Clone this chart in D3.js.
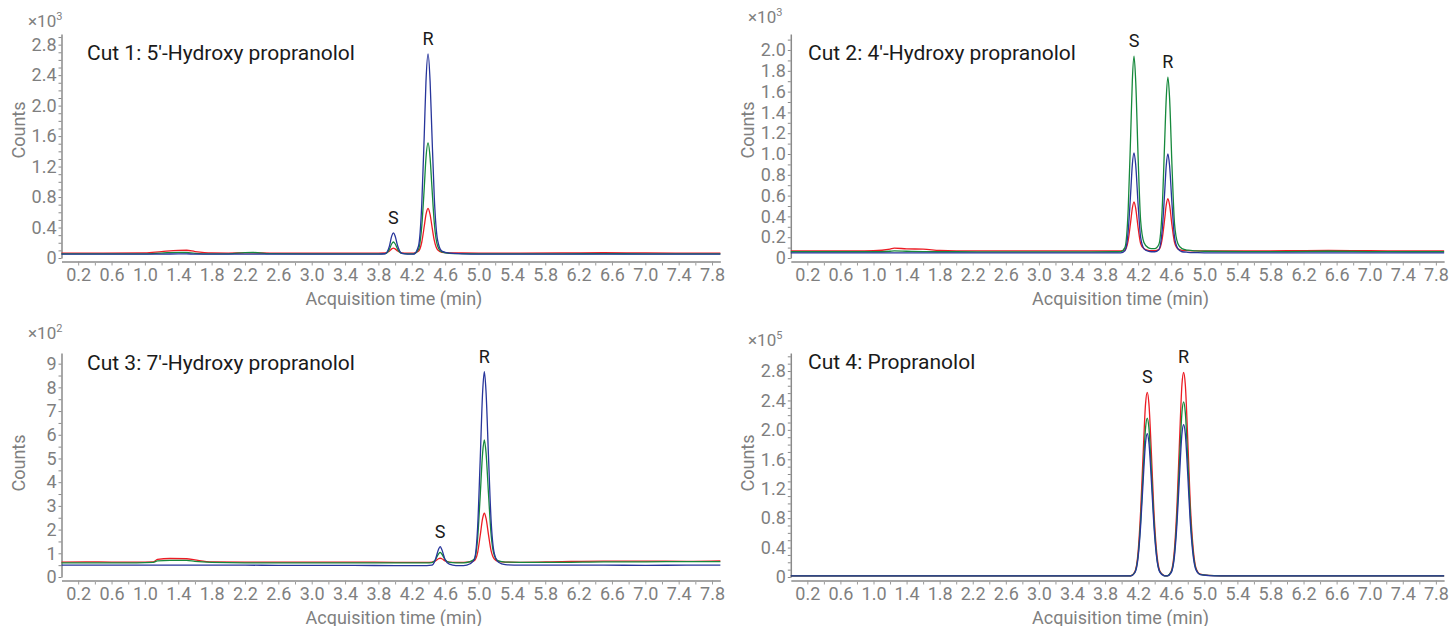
<!DOCTYPE html>
<html><head><meta charset="utf-8">
<script src="https://cdn.jsdelivr.net/npm/d3@7"></script>
<style>
body{margin:0;background:#fff}
svg{display:block}
text{font-family:Roboto,"Noto Sans",sans-serif}
</style>
</head><body>
<svg id="c" width="1450" height="626"></svg>
<script>
// ---------- DATA ----------
const xTickLabels = [0.2,0.6,1.0,1.4,1.8,2.2,2.6,3.0,3.4,3.8,4.2,4.6,5.0,5.4,5.8,6.2,6.6,7.0,7.4,7.8];
const xMinorTicks = [0.4,0.8,1.2,1.6,2.0,2.4,2.8,3.2,3.6,4.0,4.4,4.8,5.2,5.6,6.0,6.4,6.8,7.2,7.6];

const titles = ["Cut 1: 5'-Hydroxy propranolol","Cut 2: 4'-Hydroxy propranolol","Cut 3: 7'-Hydroxy propranolol","Cut 4: Propranolol"];
const exponents = ["3","3","2","5"];

const p1YTicks = [0,0.4,0.8,1.2,1.6,2.0,2.4,2.8];
const p2YTicks = [0,0.2,0.4,0.6,0.8,1.0,1.2,1.4,1.6,1.8,2.0];
const p3YTicks = [0,1,2,3,4,5,6,7,8,9];
const p4YTicks = [0,0.4,0.8,1.2,1.6,2.0,2.4,2.8];

// Panel 1 (x10^3)
const p1Time  = [0,0.5,1.0,1.2,1.4,1.5,1.6,1.8,2.0,2.2,2.3,2.5,3.0,3.5,3.8,3.88,3.93,3.96,3.98,4.00,4.03,4.08,4.15,4.22,4.28,4.32,4.35,4.37,4.395,4.42,4.44,4.47,4.51,4.56,4.65,4.8,5.0,5.5,6.0,6.5,7.0,7.5,7.9];
const p1Red   = [0.065,0.065,0.068,0.085,0.1,0.102,0.085,0.066,0.065,0.066,0.066,0.065,0.065,0.065,0.065,0.066,0.088,0.12,0.13,0.12,0.091,0.068,0.065,0.065,0.088,0.21,0.42,0.57,0.65,0.57,0.43,0.23,0.106,0.074,0.068,0.066,0.065,0.065,0.066,0.07,0.066,0.065,0.065];
const p1Green = [0.055,0.055,0.055,0.065,0.075,0.072,0.062,0.055,0.055,0.07,0.072,0.058,0.055,0.055,0.055,0.058,0.11,0.187,0.21,0.187,0.117,0.061,0.055,0.055,0.113,0.42,0.93,1.31,1.51,1.31,0.96,0.46,0.157,0.08,0.062,0.057,0.055,0.055,0.055,0.057,0.055,0.055,0.055];
const p1Blue  = [0.05,0.05,0.05,0.05,0.055,0.055,0.05,0.05,0.05,0.05,0.05,0.05,0.05,0.05,0.05,0.056,0.15,0.29,0.33,0.29,0.16,0.06,0.05,0.05,0.155,0.71,1.63,2.31,2.68,2.31,1.68,0.79,0.23,0.09,0.063,0.055,0.05,0.05,0.05,0.05,0.05,0.05,0.05];
const p1PeakNames = ["S","R"];
const p1PeakTimes = [3.98,4.395];

// Panel 2 (x10^3)
const p2Time  = [0,0.5,1.0,1.2,1.25,1.4,1.6,1.8,2.0,2.5,3.0,3.5,3.9,3.99,4.04,4.08,4.11,4.13,4.15,4.17,4.20,4.23,4.27,4.32,4.36,4.40,4.45,4.49,4.52,4.54,4.56,4.58,4.61,4.64,4.68,4.73,4.8,4.9,5.0,5.5,6.0,6.5,7.0,7.5,7.9];
const p2Red   = [0.068,0.068,0.07,0.085,0.095,0.088,0.085,0.072,0.068,0.068,0.068,0.068,0.068,0.068,0.078,0.17,0.35,0.48,0.54,0.48,0.29,0.14,0.088,0.073,0.07,0.07,0.08,0.18,0.37,0.51,0.57,0.51,0.31,0.15,0.088,0.074,0.07,0.068,0.068,0.068,0.07,0.072,0.07,0.068,0.068];
const p2Green = [0.06,0.06,0.06,0.065,0.068,0.065,0.062,0.06,0.06,0.058,0.058,0.058,0.06,0.062,0.1,0.47,1.19,1.71,1.94,1.71,0.96,0.36,0.15,0.1,0.09,0.09,0.13,0.46,1.1,1.54,1.74,1.54,0.87,0.33,0.14,0.09,0.075,0.068,0.065,0.062,0.062,0.065,0.062,0.06,0.06];
const p2Blue  = [0.05,0.05,0.05,0.05,0.05,0.05,0.05,0.05,0.05,0.05,0.05,0.05,0.05,0.05,0.07,0.26,0.63,0.9,1.01,0.9,0.51,0.2,0.09,0.065,0.06,0.06,0.08,0.26,0.62,0.89,1.0,0.89,0.51,0.2,0.09,0.06,0.055,0.052,0.05,0.05,0.05,0.05,0.05,0.05,0.05];
const p2PeakNames = ["S","R"];
const p2PeakTimes = [4.15,4.56];

// Panel 3 (x10^2)
const p3Time  = [0,0.3,0.6,0.9,1.1,1.15,1.3,1.5,1.6,1.8,2.2,2.6,3.0,3.5,4.0,4.38,4.44,4.48,4.52,4.54,4.56,4.60,4.65,4.73,4.82,4.90,4.95,4.99,5.02,5.05,5.07,5.09,5.12,5.15,5.19,5.24,5.32,5.5,6.0,6.5,7.0,7.5,7.9];
const p3Red   = [0.63,0.64,0.63,0.63,0.64,0.74,0.78,0.77,0.72,0.64,0.63,0.63,0.63,0.63,0.62,0.62,0.63,0.67,0.77,0.79,0.77,0.68,0.63,0.62,0.62,0.64,0.69,1.04,1.74,2.48,2.69,2.48,1.78,1.12,0.76,0.66,0.63,0.62,0.65,0.67,0.67,0.66,0.68];
const p3Green = [0.6,0.6,0.6,0.6,0.62,0.68,0.7,0.7,0.66,0.62,0.6,0.6,0.6,0.6,0.6,0.6,0.61,0.71,0.97,1.04,0.97,0.73,0.62,0.6,0.6,0.65,0.76,1.64,3.4,5.26,5.78,5.26,3.5,1.84,0.91,0.68,0.63,0.62,0.62,0.64,0.64,0.65,0.65];
const p3Blue  = [0.5,0.5,0.5,0.5,0.5,0.5,0.5,0.5,0.5,0.5,0.5,0.49,0.49,0.49,0.48,0.48,0.5,0.7,1.16,1.28,1.16,0.73,0.54,0.48,0.48,0.56,0.74,2.13,4.9,7.84,8.66,7.84,5.07,2.46,0.99,0.62,0.52,0.5,0.5,0.5,0.49,0.5,0.5];
const p3PeakNames = ["S","R"];
const p3PeakTimes = [4.54,5.07];

// Panel 4 (x10^5)
const p4Time  = [0,0.5,1,2,3,3.5,4.0,4.11,4.16,4.20,4.23,4.26,4.29,4.31,4.33,4.36,4.39,4.42,4.46,4.51,4.53,4.55,4.60,4.64,4.67,4.70,4.73,4.75,4.77,4.80,4.83,4.86,4.90,4.95,5.05,5.2,5.5,6,6.5,7,7.5,7.9];
const p4Red   = [0.015,0.015,0.015,0.015,0.015,0.015,0.015,0.017,0.072,0.35,0.89,1.66,2.36,2.51,2.36,1.69,0.91,0.39,0.09,0.022,0.017,0.017,0.079,0.39,0.98,1.84,2.62,2.78,2.62,1.87,1.01,0.46,0.12,0.04,0.022,0.017,0.015,0.015,0.015,0.015,0.015,0.015];
const p4Green = [0.015,0.015,0.015,0.015,0.015,0.015,0.015,0.016,0.064,0.30,0.76,1.43,2.03,2.16,2.03,1.45,0.79,0.33,0.077,0.02,0.016,0.016,0.069,0.33,0.84,1.57,2.24,2.38,2.24,1.60,0.87,0.39,0.107,0.036,0.022,0.016,0.015,0.015,0.015,0.015,0.015,0.015];
const p4Blue  = [0.014,0.014,0.014,0.014,0.014,0.014,0.014,0.015,0.058,0.27,0.69,1.29,1.83,1.95,1.83,1.31,0.71,0.30,0.07,0.019,0.015,0.015,0.06,0.29,0.73,1.37,1.95,2.07,1.95,1.39,0.75,0.34,0.094,0.033,0.02,0.015,0.014,0.014,0.014,0.014,0.014,0.014];
const p4PeakNames = ["S","R"];
const p4PeakTimes = [4.31,4.75];

// ---------- LAYOUT ----------
const colors = ["#ec1c24","#16893c","#27359b"];
const XMAX = 7.9;
const panels = [
  {time:p1Time, series:[p1Red,p1Green,p1Blue], names:p1PeakNames, times:p1PeakTimes, yTicks:p1YTicks, yMax:2.94, yMinor:0.1, fmt:d3.format(".1f"),
   left:61.5, pxmin:83.4, zero:258, top:34, countsY:130, expX:28, expY:27, titleX:87, titleY:60},
  {time:p2Time, series:[p2Red,p2Green,p2Blue], names:p2PeakNames, times:p2PeakTimes, yTicks:p2YTicks, yMax:2.154, yMinor:0.1, fmt:d3.format(".1f"),
   left:790.8, pxmin:82.7, zero:258, top:34, countsY:130, expX:748, expY:23, titleX:808, titleY:60},
  {time:p3Time, series:[p3Red,p3Green,p3Blue], names:p3PeakNames, times:p3PeakTimes, yTicks:p3YTicks, yMax:9.45, yMinor:0.5, fmt:d3.format("d"),
   left:61.5, pxmin:83.4, zero:577, top:353, countsY:463, expX:28, expY:339, titleX:87, titleY:370},
  {time:p4Time, series:[p4Red,p4Green,p4Blue], names:p4PeakNames, times:p4PeakTimes, yTicks:p4YTicks, yMax:3.045, yMinor:0.1, fmt:d3.format(".1f"),
   left:790.8, pxmin:82.7, zero:577, top:353, countsY:463, expX:748, expY:346, titleX:808, titleY:369}
];

const svg = d3.select("#c");
svg.append("rect").attr("width",1450).attr("height",626).attr("fill","#fff");

panels.forEach((p,i) => {
  const x = d3.scaleLinear().domain([0,XMAX]).range([p.left, p.left + XMAX*p.pxmin]);
  const y = d3.scaleLinear().domain([0,p.yMax]).range([p.zero, p.top]);
  const g = svg.append("g");
  const xAxisY = p.zero + 3.5;

  g.append("g").attr("transform",`translate(0,${xAxisY})`)
    .call(d3.axisBottom(x).tickValues(xMinorTicks).tickSize(4).tickSizeOuter(0).tickFormat(""))
    .call(s=>s.select(".domain").remove())
    .call(s=>s.selectAll("line").attr("stroke","#9a9a9a"));
  g.append("g").attr("transform",`translate(0,${xAxisY})`)
    .call(d3.axisBottom(x).tickValues(xTickLabels).tickSize(4).tickSizeOuter(0).tickPadding(3).tickFormat(d3.format(".1f")))
    .call(s=>s.select(".domain").attr("stroke","#a8a8a8").attr("stroke-width",2))
    .call(s=>s.selectAll("line").attr("stroke","#9a9a9a"))
    .call(s=>s.selectAll("text").attr("fill","#7f7f7f").style("font-size","18px").style("font-family","Roboto"));

  const minor = d3.range(0, p.yMax, p.yMinor).map(v=>+v.toFixed(3)).filter(v=>!p.yTicks.some(t=>Math.abs(t-v)<1e-6));
  g.append("g").attr("transform",`translate(${p.left},0)`)
    .call(d3.axisLeft(y).tickValues(minor).tickSize(3).tickSizeOuter(0).tickFormat(""))
    .call(s=>s.select(".domain").remove())
    .call(s=>s.selectAll("line").attr("stroke","#8a8a8a"));
  g.append("g").attr("transform",`translate(${p.left},0)`)
    .call(d3.axisLeft(y).tickValues(p.yTicks).tickSize(3).tickSizeOuter(0).tickPadding(2).tickFormat(v=>v===0?"0":p.fmt(v)))
    .call(s=>s.select(".domain").attr("stroke","#8a8a8a").attr("stroke-width",1.5))
    .call(s=>s.selectAll("line").attr("stroke","#8a8a8a"))
    .call(s=>s.selectAll("text").attr("fill","#7f7f7f").style("font-size","18px").style("font-family","Roboto"));

  const line = d3.line().x((d,k)=>x(p.time[k])).y(d=>y(d)).curve(d3.curveMonotoneX);
  p.series.forEach((s,k)=>{
    g.append("path").datum(s).attr("d",line).attr("fill","none")
      .attr("stroke",colors[k]).attr("stroke-width",1.3).attr("stroke-linejoin","round");
  });

  p.names.forEach((nm,j)=>{
    const t = p.times[j];
    const idx = d3.minIndex(p.time, v=>Math.abs(v-t));
    const top = d3.max(p.series, s=>s[idx]);
    g.append("text").attr("x",x(t)).attr("y",y(top)-9).attr("text-anchor","middle")
      .attr("fill","#1a1a1a").style("font-size","18px").text(nm);
  });

  g.append("text").attr("x",p.titleX).attr("y",p.titleY).attr("fill","#1a1a1a")
    .style("font-size","21px").text(titles[i]);

  const e = g.append("text").attr("x",p.expX).attr("y",p.expY).attr("fill","#808080").style("font-size","17px");
  e.append("tspan").text("×10");
  e.append("tspan").attr("dy",-7).style("font-size","11px").text(exponents[i]);

  g.append("text").attr("transform",`translate(${p.left-43},${p.countsY}) rotate(-90)`)
    .attr("text-anchor","middle").attr("dy","0.35em").attr("fill","#7f7f7f").style("font-size","18px").text("Counts");
  g.append("text").attr("x",(x.range()[0]+x.range()[1])/2+3).attr("y",xAxisY+43)
    .attr("text-anchor","middle").attr("fill","#7f7f7f").style("font-size","18px").text("Acquisition time (min)");
});
</script>
</body></html>
